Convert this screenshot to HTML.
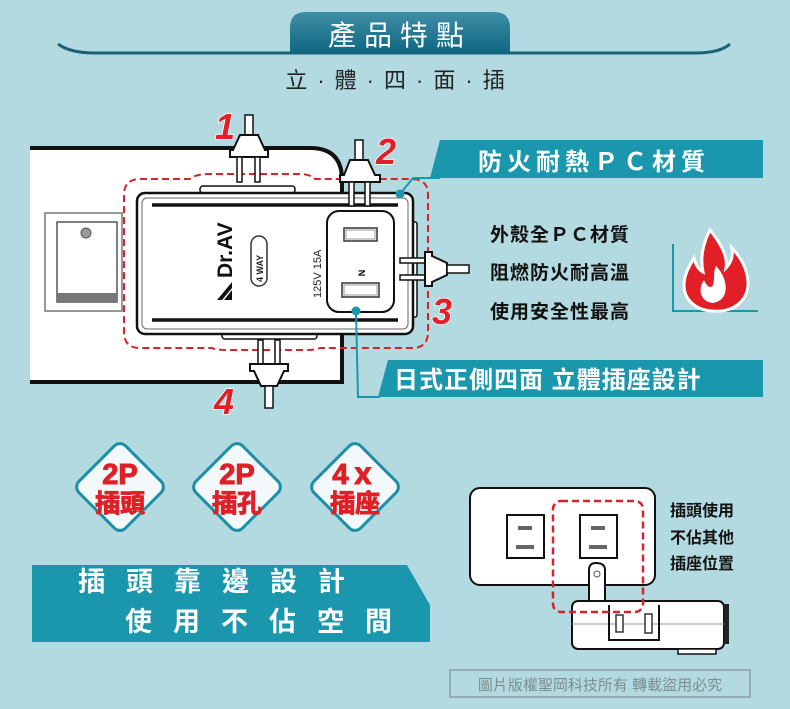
<!DOCTYPE html>
<html><head><meta charset="utf-8"><style>
html,body{margin:0;padding:0;background:#b3dae0;}
svg{display:block}
text{font-family:"Liberation Sans","Noto Sans CJK TC",sans-serif;}
</style></head><body>
<svg width="790" height="709" viewBox="0 0 790 709" xmlns="http://www.w3.org/2000/svg">
<defs>
<linearGradient id="tab" x1="0" y1="0" x2="0" y2="1"><stop offset="0" stop-color="#3f8ea6"/><stop offset="1" stop-color="#0f6782"/></linearGradient>
</defs>
<rect width="790" height="709" fill="#b3dae0"/>
<!-- header -->
<path d="M58 44 Q70 53 95 53 L695 53 Q720 53 730 44" fill="none" stroke="#1b6176" stroke-width="3"/>
<path d="M290 53 L290 28 Q290 12 306 12 L494 12 Q510 12 510 28 L510 53 Z" fill="url(#tab)"/>
<text x="400" y="45" font-size="28" fill="#fff" text-anchor="middle" letter-spacing="8">產品特點</text>
<text x="400" y="88" font-size="22" fill="#222" text-anchor="middle" letter-spacing="10">立·體·四·面·插</text>

<!-- power strip -->
<path d="M30 148 L310 148 Q342 148 342 180 L342 382 L30 382 Z" fill="#fff"/>
<path d="M30 148 L310 148 Q342 148 342 180 L342 382 L30 382" fill="none" stroke="#111" stroke-width="4"/>
<rect x="45" y="213" width="77" height="98" fill="#fff" stroke="#777" stroke-width="1.5"/>
<rect x="57" y="222" width="60" height="80" fill="#fff" stroke="#555" stroke-width="1.5"/>
<rect x="57" y="293" width="60" height="9" fill="#777"/>
<circle cx="86" cy="233" r="5" fill="#999" stroke="#555"/>

<!-- red dashed outline -->
<path d="M140 179 L190 179 Q195 174 210 174 L300 174 Q310 174 315 179 L412 179 Q428 179 428 195 L428 332 Q428 348 412 348 L320 348 Q315 350 305 350 L230 350 Q215 350 212 348 L140 348 Q124 348 124 332 L124 195 Q124 179 140 179 Z" fill="none" stroke="#d9232b" stroke-width="2" stroke-dasharray="7,4"/>

<!-- device -->
<rect x="200" y="186" width="95" height="7" rx="3" fill="#fff" stroke="#111" stroke-width="1.5"/>
<rect x="222" y="333" width="95" height="6" rx="3" fill="#fff" stroke="#111" stroke-width="1.5"/>
<rect x="411" y="222" width="6" height="95" rx="2" fill="#fff" stroke="#111" stroke-width="1.5"/>
<rect x="137" y="193" width="276" height="141" rx="8" fill="#fff" stroke="#111" stroke-width="2.5"/>
<rect x="142" y="198" width="266" height="131" rx="5" fill="none" stroke="#666" stroke-width="1"/>
<line x1="152" y1="205" x2="398" y2="205" stroke="#111" stroke-width="3.5"/>
<line x1="152" y1="320" x2="398" y2="320" stroke="#111" stroke-width="3.5"/>
<rect x="327" y="211" width="67" height="101" rx="12" fill="#fff" stroke="#111" stroke-width="2"/>
<rect x="344" y="228" width="33" height="13" fill="#fff" stroke="#333" stroke-width="1.5"/>
<rect x="346" y="230" width="29" height="9" fill="none" stroke="#999" stroke-width="1"/>
<rect x="342" y="283" width="37" height="14" fill="#fff" stroke="#333" stroke-width="1.5"/>
<rect x="344" y="285" width="33" height="10" fill="none" stroke="#999" stroke-width="1"/>
<text x="362" y="276" font-size="9" font-weight="bold" text-anchor="middle" transform="rotate(-90 362 273)">N</text>
<text x="0" y="0" font-size="11" fill="#222" transform="translate(321,298) rotate(-90)">125V  15A</text>
<path d="M217 300 L232 282 L232 288 L222 300 Z M224 300 L232 290 L232 300 Z" fill="#111"/>
<text x="0" y="0" font-size="21" font-weight="bold" fill="#111" transform="translate(232,278) rotate(-90)">Dr.AV</text>
<rect x="251" y="236" width="16" height="50" rx="8" fill="#fff" stroke="#333" stroke-width="1.5"/>
<text x="0" y="0" font-size="9" font-weight="bold" fill="#222" transform="translate(263,282) rotate(-90)">4 WAY</text>

<!-- plug 1 -->
<rect x="245" y="115" width="8" height="20" fill="#fff" stroke="#111" stroke-width="1.5"/>
<path d="M240 135 L258 135 L265 150 L268 150 L268 157 L230 157 L230 150 L233 150 Z" fill="#fff" stroke="#111" stroke-width="2"/>
<rect x="237" y="157" width="5" height="25" fill="#fff" stroke="#111" stroke-width="1.5"/>
<rect x="255" y="157" width="5" height="25" fill="#fff" stroke="#111" stroke-width="1.5"/>
<!-- plug 2 -->
<rect x="355" y="140" width="8" height="20" fill="#fff" stroke="#111" stroke-width="1.5"/>
<path d="M350 160 L368 160 L375 175 L380 175 L380 182 L340 182 L340 175 L344 175 Z" fill="#fff" stroke="#111" stroke-width="2"/>
<rect x="349" y="182" width="5" height="24" fill="#fff" stroke="#111" stroke-width="1.5"/>
<rect x="365" y="182" width="5" height="24" fill="#fff" stroke="#111" stroke-width="1.5"/>
<!-- plug 3 -->
<rect x="400" y="258" width="25" height="5" fill="#fff" stroke="#111" stroke-width="1.5"/>
<rect x="400" y="275" width="25" height="5" fill="#fff" stroke="#111" stroke-width="1.5"/>
<path d="M425 252 L432 252 L432 256 L447 263 L447 275 L432 282 L432 286 L425 286 Z" fill="#fff" stroke="#111" stroke-width="2"/>
<rect x="447" y="265" width="22" height="8" fill="#fff" stroke="#111" stroke-width="1.5"/>
<!-- plug 4 -->
<rect x="258" y="340" width="5" height="24" fill="#fff" stroke="#111" stroke-width="1.5"/>
<rect x="275" y="340" width="5" height="24" fill="#fff" stroke="#111" stroke-width="1.5"/>
<path d="M250 364 L288 364 L288 371 L284 371 L277 386 L261 386 L254 371 L250 371 Z" fill="#fff" stroke="#111" stroke-width="2"/>
<rect x="265" y="386" width="8" height="22" fill="#fff" stroke="#111" stroke-width="1.5"/>

<!-- numbers -->
<g font-size="36" font-weight="bold" font-style="italic" fill="#e01f26" stroke="#fff" stroke-width="1.5" paint-order="stroke">
<text x="215" y="139">1</text>
<text x="376" y="164">2</text>
<text x="432" y="324">3</text>
<text x="214" y="414">4</text>
</g>

<!-- banner 1 -->
<path d="M440 140 L763 140 L763 178 L430 178 Z" fill="#1a96ad"/>
<path d="M400 194 L413 178 L440 178" fill="none" stroke="#1a96ad" stroke-width="2"/>
<circle cx="400" cy="194" r="4.5" fill="#1a96ad"/>
<text x="478" y="170" font-size="24" font-weight="bold" fill="#fff" letter-spacing="5">防火耐熱ＰＣ材質</text>
<!-- list -->
<g font-size="19" font-weight="bold" fill="#111">
<text x="490" y="241" letter-spacing="1">外殼全ＰＣ材質</text>
<text x="490" y="279" letter-spacing="1">阻燃防火耐高溫</text>
<text x="490" y="318" letter-spacing="1">使用安全性最高</text>
</g>
<path d="M673 244 L673 311 L758 311" fill="none" stroke="#1a96ad" stroke-width="2"/>
<!-- flame -->
<path d="M710 230 C722 245 728 258 726 268 C732 262 733 255 732 248 C748 265 752 285 744 298 C736 310 722 312 712 311 C696 310 684 300 684 285 C684 274 690 265 694 258 C696 266 699 270 703 272 C700 258 703 243 710 230 Z" fill="#e21e26" stroke="#fff" stroke-width="3"/>
<path d="M713 303 C701 302 697 290 704 280 C707 287 711 289 713 285 C715 277 713 272 716 266 C728 278 731 300 713 303 Z" fill="#fff"/>

<!-- banner 2 -->
<path d="M388 360 L763 360 L763 397 L378 397 Z" fill="#1a96ad"/>
<path d="M356 311 L358 397 L380 397" fill="none" stroke="#1a96ad" stroke-width="2"/>
<circle cx="356" cy="311" r="4.5" fill="#1a96ad"/>
<text x="394" y="388" font-size="24" font-weight="bold" fill="#fff" letter-spacing="1">日式正側四面 立體插座設計</text>

<!-- diamonds -->
<g fill="#f3f8fa" stroke="#1b8fa6" stroke-width="3">
<rect x="87" y="454" width="66" height="66" rx="8" transform="rotate(45 120 487)"/>
<rect x="204" y="454" width="66" height="66" rx="8" transform="rotate(45 237 487)"/>
<rect x="322" y="454" width="66" height="66" rx="8" transform="rotate(45 355 487)"/>
</g>
<g font-weight="bold" fill="#e01f26" text-anchor="middle" stroke="#e01f26" stroke-width="1">
<text x="120" y="484" font-size="29">2P</text>
<text x="120" y="512" font-size="25">插頭</text>
<text x="237" y="484" font-size="29">2P</text>
<text x="237" y="512" font-size="25">插孔</text>
<text x="355" y="484" font-size="29">4ｘ</text>
<text x="355" y="512" font-size="25">插座</text>
</g>

<!-- bottom-left banner -->
<path d="M32 565 L407 565 L430 605 L430 642 L32 642 Z" fill="#1a96ad"/>
<g font-size="27" font-weight="bold" fill="#fff" letter-spacing="21">
<text x="78" y="591">插頭靠邊設計</text>
<text x="125" y="631">使用不佔空間</text>
</g>

<!-- wall outlet -->
<rect x="470" y="488" width="185" height="97" rx="10" fill="#fff" stroke="#111" stroke-width="2"/>
<rect x="507" y="515" width="37" height="43" fill="#fff" stroke="#111" stroke-width="2"/>
<rect x="518" y="526" width="14" height="4" fill="#666"/>
<rect x="516" y="545" width="18" height="4" fill="#666"/>
<rect x="580" y="515" width="37" height="43" fill="#fff" stroke="#111" stroke-width="2"/>
<rect x="591" y="526" width="14" height="4" fill="#666"/>
<rect x="589" y="545" width="18" height="4" fill="#666"/>
<path d="M589 605 L589 570 Q589 563 596 563 Q605 563 605 570 L605 605 Z" fill="#fff" stroke="#111" stroke-width="2"/>
<circle cx="597" cy="574" r="3" fill="#fff" stroke="#555"/>
<rect x="572" y="601" width="152" height="48" rx="6" fill="#fff" stroke="#111" stroke-width="2"/>
<rect x="724" y="604" width="5" height="40" fill="#222"/>
<rect x="678" y="649" width="38" height="5" fill="#fff" stroke="#111" stroke-width="1.5"/>
<line x1="572" y1="624" x2="724" y2="624" stroke="#999" stroke-width="1"/>
<path d="M609 605 L609 640 L659 640 L659 605" fill="none" stroke="#111" stroke-width="2"/>
<rect x="616" y="615" width="7" height="17" fill="#fff" stroke="#333" stroke-width="1.5"/>
<rect x="645" y="614" width="7" height="19" fill="#fff" stroke="#333" stroke-width="1.5"/>
<rect x="553" y="501" width="90" height="111" rx="8" fill="none" stroke="#d9232b" stroke-width="2.5" stroke-dasharray="7,4"/>
<g font-size="16" font-weight="bold" fill="#111">
<text x="670" y="516">插頭使用</text>
<text x="670" y="543">不佔其他</text>
<text x="670" y="569">插座位置</text>
</g>

<!-- copyright -->
<rect x="450" y="670" width="300" height="27" fill="none" stroke="#8a9ca2" stroke-width="1.5"/>
<text x="600" y="690" font-size="15" fill="#7d8d92" text-anchor="middle">圖片版權聖岡科技所有  轉載盜用必究</text>
</svg>
</body></html>
